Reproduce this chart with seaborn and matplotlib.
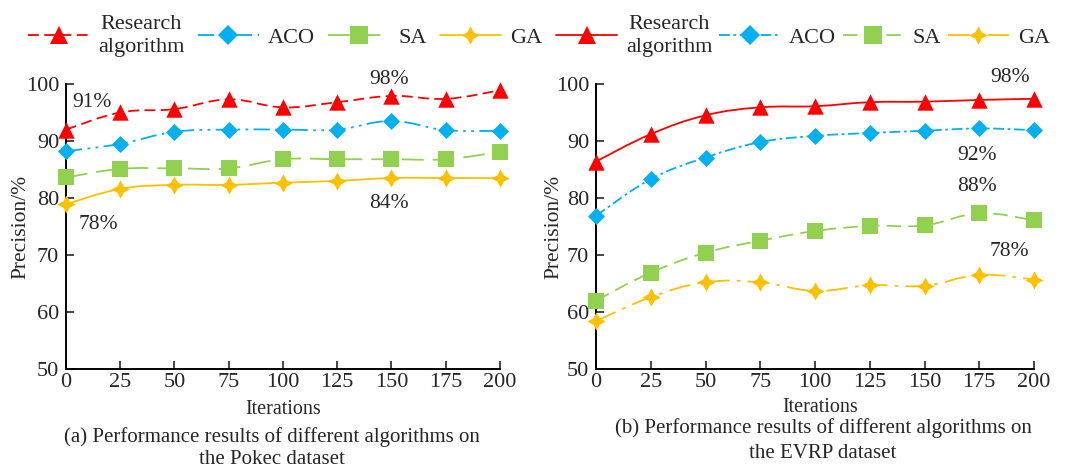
import numpy as np
import matplotlib
matplotlib.use("Agg")
import matplotlib.pyplot as plt
from matplotlib.path import Path
from matplotlib.patches import PathPatch
from matplotlib.lines import Line2D
import seaborn as sns

iterations = [0, 25, 50, 75, 100, 125, 150, 175, 200]

# (a) Pokec dataset
pokec_research = [92.0, 95.0, 95.6, 97.3, 95.9, 96.8, 97.9, 97.4, 98.9]
pokec_aco = [88.2, 89.5, 91.6, 92.0, 92.0, 92.0, 93.5, 91.9, 91.8]
pokec_sa = [83.6, 85.1, 85.2, 85.2, 86.8, 86.8, 86.8, 86.8, 88.1]
pokec_ga = [78.9, 81.6, 82.3, 82.3, 82.7, 83.0, 83.5, 83.5, 83.5]

# (b) EVRP dataset
evrp_research = [86.4, 91.2, 94.5, 95.9, 96.1, 96.8, 96.9, 97.2, 97.4]
evrp_aco = [76.9, 83.3, 87.1, 89.8, 90.9, 91.4, 91.8, 92.2, 91.9]
evrp_sa = [62.0, 66.9, 70.4, 72.5, 74.2, 75.1, 75.2, 77.3, 76.1]
evrp_ga = [58.4, 62.6, 65.2, 65.2, 63.7, 64.7, 64.6, 66.5, 65.7]

labels = ["Research\nalgorithm", "ACO", "SA", "GA"]
colors = ["#ff0000", "#00b0f0", "#92d050", "#ffc000"]
markers = ["^", "D", "s", (4, 1, 0)]
msizes = [140, 75, 130, 170]

styles_a = [(0, (6, 3)), (0, (9, 3, 1.5, 3, 1.5, 3)), (0, (12, 5)), "-"]
styles_b = ["-", (0, (6, 2, 1.5, 2)), (0, (8, 4)), (0, (12, 4, 2, 4))]

notes_a = [("91%", 12, 96.8), ("98%", 149, 100.7), ("78%", 15, 75.3), ("84%", 149, 79.1)]
notes_b = [("98%", 189, 101.2), ("92%", 174, 87.5), ("88%", 174, 82.1), ("78%", 189, 70.7)]


def smooth_path(xs, ys, k=5.0):
    # bezier curve through the points, like a "smoothed line" in office charts
    pts = np.column_stack([xs, ys]).astype(float)
    n = len(pts)
    verts = [pts[0]]
    codes = [Path.MOVETO]
    for i in range(n - 1):
        p0 = pts[i - 1] if i > 0 else pts[i]
        p1 = pts[i]
        p2 = pts[i + 1]
        p3 = pts[i + 2] if i + 2 < n else pts[i + 1]
        verts += [p1 + (p2 - p0) / k, p2 - (p3 - p1) / k, p2]
        codes += [Path.CURVE4] * 3
    return Path(verts, codes)


sns.set_theme(style="ticks")
plt.rcParams["font.family"] = ["Liberation Serif", "DejaVu Serif"]

fig = plt.figure(figsize=(10.66, 4.70), dpi=100)
ax_a = fig.add_axes([0.0619, 0.2149, 0.4071, 0.6064])
ax_b = fig.add_axes([0.5591, 0.2149, 0.4109, 0.6064])

panels = [
    (ax_a, [pokec_research, pokec_aco, pokec_sa, pokec_ga], styles_a, notes_a, -0.083),
    (ax_b, [evrp_research, evrp_aco, evrp_sa, evrp_ga], styles_b, notes_b, -0.075),
]

for ax, series, styles, notes, ylab_x in panels:
    for vals, c, m, s, ls in zip(series, colors, markers, msizes, styles):
        ax.add_patch(PathPatch(smooth_path(iterations, vals), fill=False,
                               edgecolor=c, lw=1.3, linestyle=ls, zorder=2))
        sns.scatterplot(x=iterations, y=vals, marker=m, s=s, color=c,
                        linewidth=0, ax=ax, zorder=3, clip_on=False, legend=False)
    for txt, x, y in notes:
        ax.text(x, y, txt, fontsize=15.5, ha="center", va="center")
    ax.set_xlim(0, 200)
    ax.set_ylim(50, 100)
    ax.set_xticks(iterations)
    ax.set_yticks(range(50, 101, 10))
    ax.tick_params(direction="in", length=6, width=1.2, labelsize=16)
    ax.tick_params(axis="x", pad=3)
    ax.tick_params(axis="y", pad=5)
    for sp in ["top", "right"]:
        ax.spines[sp].set_visible(False)
    for sp in ["left", "bottom"]:
        ax.spines[sp].set_linewidth(1.4)
        ax.spines[sp].set_color("black")
    ax.set_ylabel("Precision/%", fontsize=15.5)
    ax.yaxis.set_label_coords(ylab_x, 0.5)
    ax.set_xlabel("")

# legends
for styles, x0, colsp in [(styles_a, 28 / 1066, 0.6), (styles_b, 556 / 1066, 0.3)]:
    handles = [Line2D([], [], color=c, lw=1.3, linestyle=ls, marker=m,
                      markersize=13 if m != "D" else 10, markeredgewidth=0)
               for c, m, ls in zip(colors, markers, styles)]
    leg = fig.legend(handles, labels, loc="center left", ncol=4,
                     bbox_to_anchor=(x0, 1 - 36 / 470), frameon=False,
                     fontsize=16, handlelength=2.75, handletextpad=0.4,
                     columnspacing=colsp, borderpad=0, borderaxespad=0,
                     labelspacing=0)
    for t in leg.get_texts():
        t.set_multialignment("center")
        t.set_linespacing(1.3)

fig.text(283 / 1066, 1 - 409 / 470, "Iterations", fontsize=14.5, ha="center", va="center")
fig.text(820 / 1066, 1 - 408 / 470, "Iterations", fontsize=14.5, ha="center", va="center")
fig.text(272 / 1066, 1 - 437 / 470, "(a) Performance results of different algorithms on",
         fontsize=15, ha="center", va="center")
fig.text(272 / 1066, 1 - 460 / 470, "the Pokec dataset", fontsize=15, ha="center", va="center")
fig.text(823 / 1066, 1 - 428 / 470, "(b) Performance results of different algorithms on",
         fontsize=15, ha="center", va="center")
fig.text(823 / 1066, 1 - 453 / 470, "the EVRP dataset", fontsize=15, ha="center", va="center")

fig.savefig("out.png", dpi=100)
